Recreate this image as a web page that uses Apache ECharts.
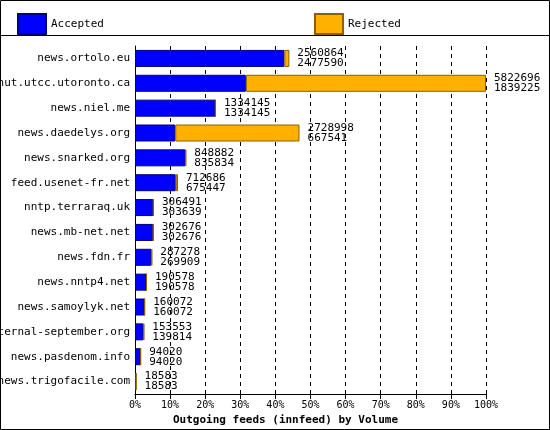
<!DOCTYPE html>
<html><head><meta charset="utf-8">
<script src="https://cdn.jsdelivr.net/npm/echarts@6/dist/echarts.min.js"></script>
<style>body{margin:0;background:#fff}#c{width:550px;height:430px}</style>
</head><body><div id="c"></div>
<script>
var hosts = ['news.ortolo.eu', 'nut.utcc.utoronto.ca', 'news.niel.me', 'news.daedelys.org', 'news.snarked.org',
    'feed.usenet-fr.net', 'nntp.terraraq.uk', 'news.mb-net.net', 'news.fdn.fr', 'news.nntp4.net',
    'news.samoylyk.net', 'eternal-september.org', 'news.pasdenom.info', 'news.trigofacile.com'];
var offered = [2560864, 5822696, 1334145, 2728998, 848882, 712686, 306491, 302676, 287278, 190578, 160072, 153553, 94020, 18583];
var accepted = [2477590, 1839225, 1334145, 667541, 835834, 675447, 303639, 302676, 269909, 190578, 160072, 139814, 94020, 18583];
var tickLabels = ['0%', '10%', '20%', '30%', '40%', '50%', '60%', '70%', '80%', '90%', '100%'];

var maxVal = 5822696;
var rejected = offered.map(function (v, i) { return v - accepted[i]; });
var font = 'DejaVu Sans Mono';

var chart = echarts.init(document.getElementById('c'));
chart.setOption({
    animation: false,
    textStyle: {fontFamily: font},
    graphic: [
        {type: 'rect', shape: {x: 0.5, y: 0.5, width: 549, height: 429}, style: {fill: 'none', stroke: '#000'}},
        {type: 'line', shape: {x1: 0, y1: 35.5, x2: 550, y2: 35.5}, style: {stroke: '#000'}}
    ],
    legend: {
        left: 12, top: 8, itemWidth: 28, itemHeight: 20, itemGap: 210,
        textStyle: {fontFamily: font, fontSize: 11, color: '#000'},
        data: [{name: 'Accepted', icon: 'rect'}, {name: 'Rejected', icon: 'rect'}]
    },
    grid: {left: 135, right: 64, top: 46, bottom: 36, containLabel: false, outerBoundsMode: 'none'},
    xAxis: {
        type: 'value', min: 0, max: maxVal, interval: maxVal / 10,
        name: 'Outgoing feeds (innfeed) by Volume', nameLocation: 'middle', nameGap: 21,
        nameTextStyle: {fontFamily: font, fontWeight: 'bold', fontSize: 11, color: '#000', padding: [0, 0, 0, -50]},
        axisLine: {show: true, lineStyle: {color: '#000'}},
        axisTick: {show: true, lineStyle: {color: '#000'}},
        axisLabel: {fontFamily: font, fontSize: 10, color: '#000', margin: 6,
            formatter: function (v) { return tickLabels[Math.round(v / maxVal * 10)]; }},
        splitLine: {show: true, lineStyle: {color: '#000', type: [4, 4]}}
    },
    yAxis: {
        type: 'category', data: hosts, inverse: true,
        axisLine: {show: true, lineStyle: {color: '#000'}},
        axisTick: {show: false},
        axisLabel: {fontFamily: font, fontSize: 11, color: '#000', margin: 5}
    },
    series: [
        {name: 'Accepted', type: 'bar', stack: 't', barWidth: 17, data: accepted,
            itemStyle: {color: '#0000ff', borderColor: '#000080', borderWidth: 1}},
        {name: 'Rejected', type: 'bar', stack: 't', barWidth: 17, data: rejected,
            itemStyle: {color: '#ffb000', borderColor: '#8b6000', borderWidth: 1},
            label: {show: true, position: 'right', distance: 8, fontFamily: font, fontSize: 11, color: '#000', lineHeight: 10,
                formatter: function (p) { return offered[p.dataIndex] + '\n' + accepted[p.dataIndex]; }}}
    ]
});
</script></body></html>
